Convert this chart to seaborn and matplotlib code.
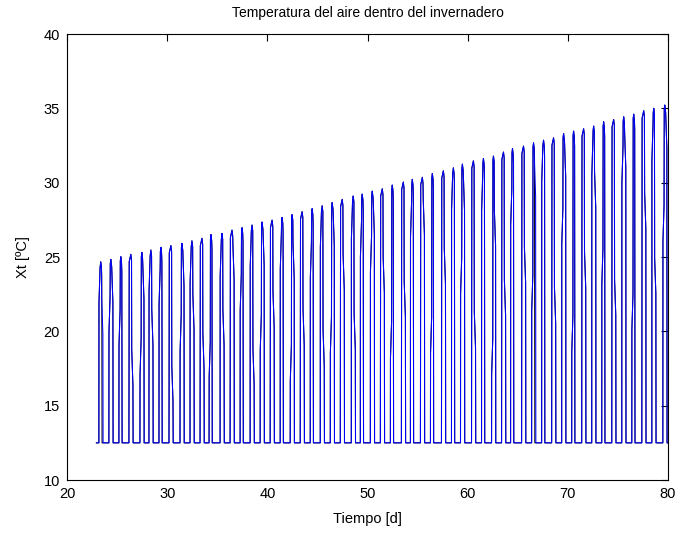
import matplotlib
matplotlib.use("Agg")
import matplotlib.pyplot as plt
import numpy as np
import pandas as pd
import seaborn as sns

# ---- data -------------------------------------------------------------
days = list(range(23, 80))

# time of the daily maximum [d]
peak_time = [
    23.4, 24.4, 25.4, 26.4, 27.5, 28.4, 29.4, 30.4, 31.5, 32.5,
    33.5, 34.4, 35.5, 36.5, 37.5, 38.5, 39.5, 40.5, 41.5, 42.5,
    43.5, 44.5, 45.5, 46.5, 47.5, 48.6, 49.5, 50.5, 51.5, 52.5,
    53.6, 54.5, 55.5, 56.5, 57.6, 58.6, 59.5, 60.6, 61.6, 62.6,
    63.6, 64.5, 65.6, 66.6, 67.6, 68.6, 69.6, 70.6, 71.6, 72.6,
    73.6, 74.6, 75.6, 76.6, 77.6, 78.6, 79.7,
]

# daily maximum air temperature [ºC]
peak_temp = [
    24.68, 24.84, 25.02, 25.18, 25.31, 25.47, 25.65, 25.77, 25.92, 26.09,
    26.26, 26.51, 26.59, 26.81, 26.97, 27.15, 27.35, 27.48, 27.66, 27.85,
    28.05, 28.25, 28.45, 28.66, 28.88, 29.10, 29.23, 29.43, 29.59, 29.84,
    30.04, 30.22, 30.36, 30.62, 30.80, 31.00, 31.25, 31.47, 31.63, 31.79,
    32.06, 32.30, 32.46, 32.68, 32.86, 33.02, 33.31, 33.47, 33.63, 33.81,
    34.10, 34.25, 34.43, 34.61, 34.84, 35.00, 35.22,
]

# intermediate sample on the warming edge (fraction of the daily swing)
rise_kink = [
    0.93, 0.70, 0.62, 1.00, 0.45, 0.95, 0.80, 1.00, 0.55, 0.92,
    1.00, 0.40, 0.88, 1.00, 0.70, 0.95, 0.50, 1.00, 0.85, 0.35,
    1.00, 0.78, 0.96, 0.45, 1.00, 0.90, 0.82, 0.75, 1.00, 0.40,
    1.00, 0.85, 1.00, 0.40, 1.00, 0.92, 0.60, 1.00, 0.88, 0.30,
    1.00, 0.80, 1.00, 0.50, 0.95, 1.00, 0.70, 0.35, 1.00, 0.90,
    0.55, 1.00, 0.85, 0.40, 1.00, 0.90, 0.65,
]

# intermediate sample on the cooling edge (fraction of the daily swing)
fall_kink = [
    0.70, 0.88, 1.00, 0.40, 0.85, 0.60, 1.00, 0.30, 0.90, 0.65,
    0.45, 1.00, 0.55, 0.85, 1.00, 0.35, 0.90, 0.60, 1.00, 0.80,
    0.50, 1.00, 0.40, 0.90, 0.70, 0.45, 1.00, 0.90, 0.66, 1.00,
    0.55, 1.00, 0.85, 1.00, 0.65, 1.00, 0.90, 0.40, 1.00, 0.75,
    0.50, 1.00, 0.60, 0.88, 1.00, 0.45, 0.92, 1.00, 0.55, 0.80,
    1.00, 0.45, 0.90, 1.00, 0.70, 0.50, 0.95,
]

base_temp = 12.5          # night-time set point [ºC]
t_start, t_end = 22.92, 80.0
# days on which the reference trajectory cools without the intermediate step
black_days = [23, 56, 66, 76]


def build_series(straight_days):
    t, y = [t_start], [base_temp]
    for d, tp, P, rk, fk in zip(days, peak_time, peak_temp, rise_kink, fall_kink):
        h = P - base_temp
        # warming edge
        t.append(tp - 0.22); y.append(base_temp)
        if rk < 0.99:
            lvl = min(base_temp + rk * h, P - 1.6)
            t += [tp - 0.21, tp - 0.10, tp - 0.08]
            y += [lvl - 1.2, lvl + 1.2, P - 0.3]
        else:
            t.append(tp - 0.19); y.append(P - 0.5)
        t.append(tp - 0.03); y.append(P)
        # cooling edge
        t.append(tp + 0.04); y.append(P - 0.4)
        if fk < 0.99 and d not in straight_days:
            lvl = min(base_temp + fk * h, P - 1.7)
            t += [tp + 0.06, tp + 0.18, tp + 0.20]
            y += [lvl + 1.2, lvl - 1.2, base_temp]
        else:
            t += [tp + 0.07, tp + 0.10]
            y += [P - 1.0, base_temp]
    t.append(t_end); y.append(base_temp)
    t, y = np.array(t), np.array(y)
    keep = t <= t_end
    return pd.DataFrame({"Tiempo": t[keep], "Xt": y[keep]})


df_ref = build_series(black_days)
df_sim = build_series([])

# ---- figure -----------------------------------------------------------
sns.set_style("white")
plt.rcParams["font.family"] = ["Liberation Sans", "DejaVu Sans"]
plt.rcParams["text.color"] = "black"
plt.rcParams["axes.labelcolor"] = "black"

fig = plt.figure(figsize=(6.81, 5.35), dpi=100)
ax = fig.add_axes([0.0984, 0.1028, 0.8826, 0.8336])

sns.lineplot(data=df_ref, x="Tiempo", y="Xt", sort=False, estimator=None,
             color="black", linewidth=0.75, ax=ax)
sns.lineplot(data=df_sim, x="Tiempo", y="Xt", sort=False, estimator=None,
             color="#0000ff", linewidth=0.75, ax=ax)

ax.set_xlim(20, 80)
ax.set_ylim(10, 40)
ax.set_xticks(range(20, 81, 10))
ax.set_yticks(range(10, 41, 5))

for s in ax.spines.values():
    s.set_visible(True)
    s.set_color("black")
    s.set_linewidth(0.8)

ax.tick_params(direction="in", length=5, width=0.8, top=True, right=True,
               labelsize=10.5, colors="black", pad=5)

ax.set_title("Temperatura del aire dentro del invernadero", fontsize=10,
             pad=12, color="black")
ax.set_xlabel("Tiempo [d]", fontsize=10.5, labelpad=8, color="black")
ax.set_ylabel("Xt [ºC]", fontsize=10.5, labelpad=10, color="black")

fig.savefig("out.png", dpi=100, facecolor="white")
